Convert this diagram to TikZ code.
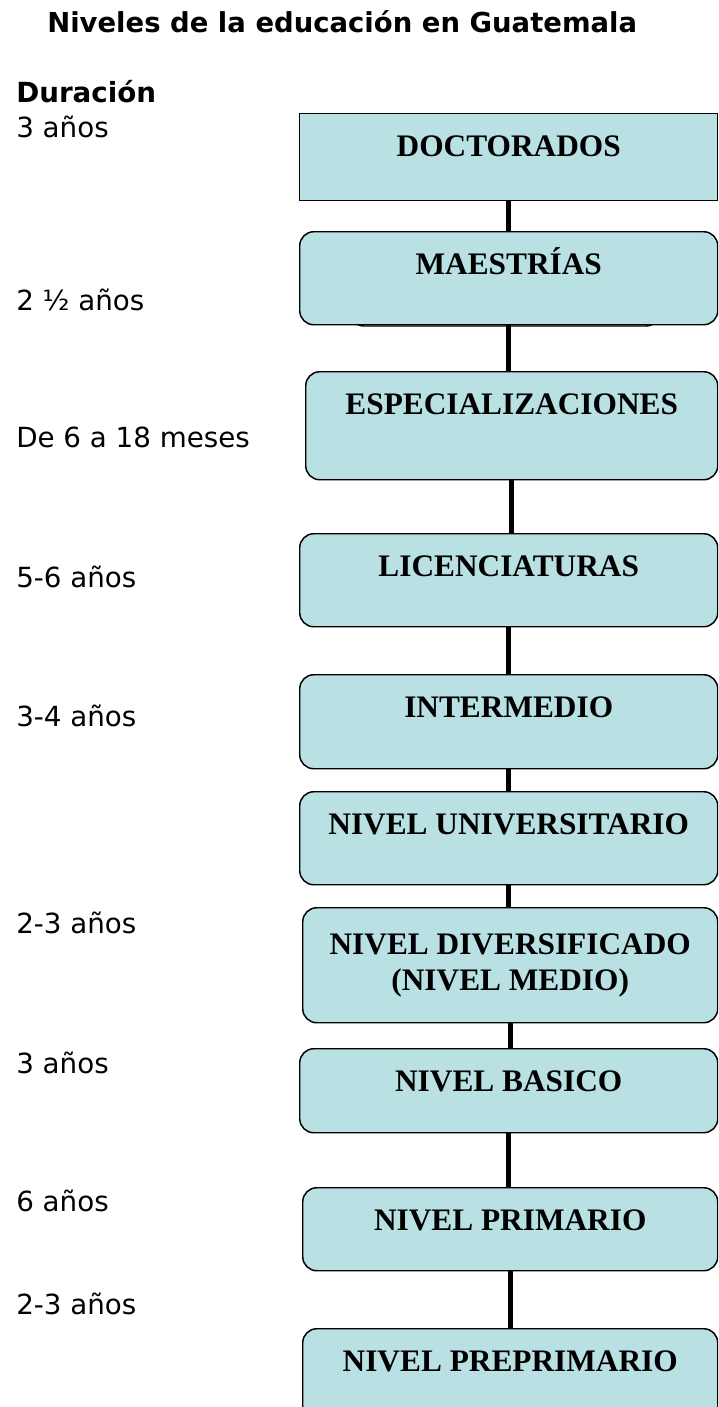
\documentclass[tikz,border=0pt]{standalone}
\usepackage{fontspec}
\setmainfont{Liberation Serif}
\newfontfamily\durfont{DejaVu Sans}
\usetikzlibrary{positioning}

\definecolor{lvlfill}{RGB}{185,224,227}

\tikzset{
  lvl/.style={draw=black, line width=1.1pt, fill=lvlfill, rounded corners=10.5pt,
    anchor=north west, inner xsep=0pt, inner ysep=0pt, align=center,
    font=\fontsize{23.5}{27}\selectfont\bfseries},
  lvlone/.style={text height=32.25pt, text depth=#1},
  wide/.style={minimum width=313.5pt},
  mid/.style={minimum width=311.25pt},
  narrow/.style={minimum width=309pt},
  dur/.style={anchor=base west, inner sep=0pt, font=\durfont\fontsize{20.8}{25}\selectfont},
  link/.style={draw=black, line width=3.8pt}
}

\begin{document}
\begin{tikzpicture}[x=0.75pt, y=-0.75pt]
    \useasboundingbox (0,0) rectangle (718,1407);
    \clip (0,0) rectangle (718,1407);

    % Title and column heading
    \node[dur, font=\durfont\bfseries\fontsize{20.6}{25}\selectfont] (title) at (47,32) {Niveles de la educación en Guatemala};
    \node[dur, font=\durfont\bfseries\fontsize{20.8}{25}\selectfont] (durhead) at (16,102) {Duración};

    % Durations on the left
    \node[dur] (d1) at (16,137) {3 años};
    \node[dur] (d2) at (16,310) {2 ½ años};
    \node[dur] (d3) at (16,447) {De 6 a 18 meses};
    \node[dur] (d4) at (16,587) {5-6 años};
    \node[dur] (d5) at (16,726) {3-4 años};
    \node[dur] (d6) at (16,933) {2-3 años};
    \node[dur] (d7) at (16,1073) {3 años};
    \node[dur] (d8) at (16,1211) {6 años};
    \node[dur] (d9) at (16,1314) {2-3 años};

    % Frame behind the master's box
    \draw[line width=1.1pt, rounded corners=10.5pt, fill=white] (350,262) rectangle (660,326);

    % Levels, top to bottom
    \node[lvl, wide, lvlone=33pt, sharp corners] (doc) at (299,113) {DOCTORADOS};
    \node[lvl, wide, lvlone=37.5pt] (mae) at (299,231) {MAESTRÍAS};
    \node[lvl, narrow, lvlone=48.75pt] (esp) at (305,371) {ESPECIALIZACIONES};
    \node[lvl, wide, lvlone=37.5pt] (lic) at (299,533) {LICENCIATURAS};
    \node[lvl, wide, lvlone=38.25pt] (inter) at (299,674) {INTERMEDIO};
    \node[lvl, wide, lvlone=37.5pt] (univ) at (299,791) {NIVEL UNIVERSITARIO};
    \node[lvl, mid, minimum height=86.25pt] (diver) at (302,907) {NIVEL DIVERSIFICADO\\(NIVEL MEDIO)};
    \node[lvl, wide, lvlone=30.75pt] (basico) at (299,1048) {NIVEL BASICO};
    \node[lvl, mid, lvlone=30pt] (prim) at (302,1187) {NIVEL PRIMARIO};
    \node[lvl, mid, lvlone=36.75pt] (preprim) at (302,1328) {NIVEL PREPRIMARIO};

    % Connectors
    \draw[link] (doc.south) -- (doc.south |- mae.north);
    \draw[link] (mae.south) -- (mae.south |- esp.north);
    \draw[link] (esp.south) -- (esp.south |- lic.north);
    \draw[link] (lic.south) -- (lic.south |- inter.north);
    \draw[link] (inter.south) -- (inter.south |- univ.north);
    \draw[link] (univ.south) -- (univ.south |- diver.north);
    \draw[link] (diver.south) -- (diver.south |- basico.north);
    \draw[link] (basico.south) -- (basico.south |- prim.north);
    \draw[link] (prim.south) -- (prim.south |- preprim.north);
\end{tikzpicture}
\end{document}
